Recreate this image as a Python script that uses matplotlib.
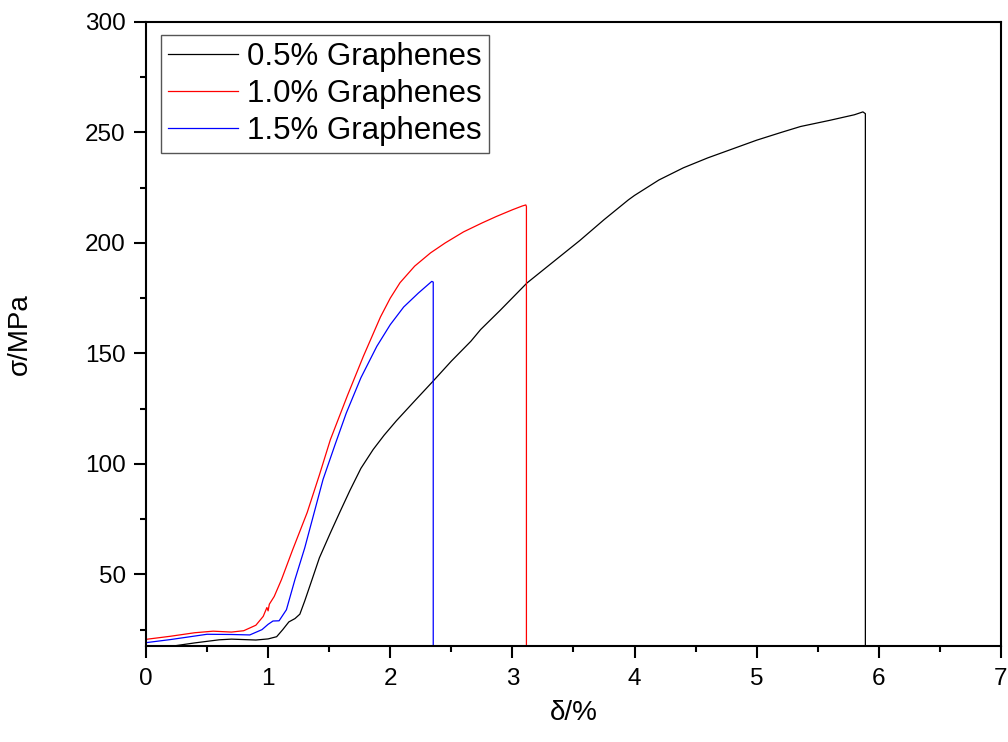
import matplotlib
matplotlib.use("Agg")
import matplotlib.pyplot as plt
from matplotlib.ticker import MultipleLocator

plt.rcParams['font.family'] = ['Liberation Sans', 'DejaVu Sans']

labels = ["0.5% Graphenes", "1.0% Graphenes", "1.5% Graphenes"]
colors = ["#000000", "#ff0000", "#0000ff"]

x_05 = [0.0, 0.2, 0.4, 0.6, 0.7, 0.8, 0.9, 1.0, 1.07, 1.12, 1.17, 1.22, 1.26, 1.30, 1.36,
        1.42, 1.51, 1.59, 1.67, 1.76, 1.86, 1.95, 2.05, 2.2, 2.35, 2.5, 2.66, 2.74, 2.9,
        3.12, 3.39, 3.55, 3.75, 3.95, 4.0, 4.2, 4.4, 4.6, 4.8, 5.0, 5.2, 5.36, 5.6, 5.8,
        5.87, 5.89, 5.89]
y_05 = [15.5, 17.4, 19.0, 20.4, 20.7, 20.5, 20.3, 20.8, 21.8, 25.0, 28.5, 30.0, 32.0, 38.0, 47.7,
        57.5, 68.8, 78.5, 88.0, 98.0, 106.5, 113.0, 119.5, 128.5, 137.4, 146.5, 155.5, 160.8, 169.5,
        181.9, 193.9, 201.0, 210.5, 219.5, 221.5, 228.5, 234.0, 238.5, 242.5, 246.5, 250.0, 252.7, 255.5, 258.0,
        259.3, 258.5, 0.0]

x_10 = [0.0, 0.2, 0.4, 0.55, 0.7, 0.8, 0.9, 0.96, 0.99, 1.0, 1.01, 1.05, 1.11, 1.2, 1.32,
        1.42, 1.51, 1.65, 1.78, 1.92, 2.0, 2.08, 2.2, 2.33, 2.45, 2.6, 2.75, 2.87, 3.0, 3.08,
        3.11, 3.115, 3.115]
y_10 = [20.6, 22.0, 23.6, 24.3, 23.9, 24.5, 27.0, 31.0, 35.0, 33.5, 36.5, 40.0, 47.7, 61.0, 78.0,
        95.0, 111.0, 131.0, 148.7, 166.5, 175.0, 182.0, 189.5, 195.5, 200.0, 205.0, 209.0, 212.0, 215.0, 216.7,
        217.2, 216.5, 0.0]

x_15 = [0.0, 0.2, 0.5, 0.7, 0.85, 0.95, 1.0, 1.04, 1.09, 1.15, 1.22, 1.3, 1.45, 1.55,
        1.64, 1.76, 1.89, 2.0, 2.11, 2.23, 2.34, 2.352, 2.352]
y_15 = [19.1, 20.5, 22.9, 22.8, 22.6, 25.0, 27.4, 28.9, 29.0, 34.0, 47.7, 62.0, 93.0, 109.0,
        123.0, 139.0, 153.2, 163.0, 171.0, 177.3, 182.6, 182.3, 0.0]

fig = plt.figure(figsize=(10.08, 7.42), dpi=100)
ax = fig.add_axes([0.1448, 0.1294, 0.8482, 0.8410])

for xs, ys, c, lab in zip([x_05, x_10, x_15], [y_05, y_10, y_15], colors, labels):
    ax.plot(xs, ys, color=c, lw=0.9, label=lab, solid_joinstyle='round')

ax.set_xlim(0, 7)
ax.set_ylim(17.6, 300)
ax.xaxis.set_major_locator(MultipleLocator(1))
ax.xaxis.set_minor_locator(MultipleLocator(0.5))
ax.yaxis.set_minor_locator(MultipleLocator(25))
ax.set_yticks([50, 100, 150, 200, 250, 300])

for s in ax.spines.values():
    s.set_linewidth(1.5)
ax.tick_params(which='major', direction='out', length=8.5, width=1.5, labelsize=17.5)
ax.tick_params(which='minor', direction='out', length=4, width=1.5)
ax.tick_params(axis='x', which='major', pad=7)
ax.tick_params(axis='y', which='major', pad=6)

ax.set_xlabel("δ/%", fontsize=20)
ax.set_ylabel("σ/MPa", fontsize=20)
ax.xaxis.set_label_coords(0.5, -0.0865)
ax.yaxis.set_label_coords(-0.132, 0.5)

leg = ax.legend(loc='upper left', bbox_to_anchor=(0.0175, 0.979), fontsize=22.5, frameon=True,
                fancybox=False, edgecolor='#555555', framealpha=1, borderpad=0.22,
                labelspacing=0.22, handlelength=2.25, handletextpad=0.3, borderaxespad=0)
leg.get_frame().set_linewidth(1.0)

fig.savefig("out.png", dpi=100)
